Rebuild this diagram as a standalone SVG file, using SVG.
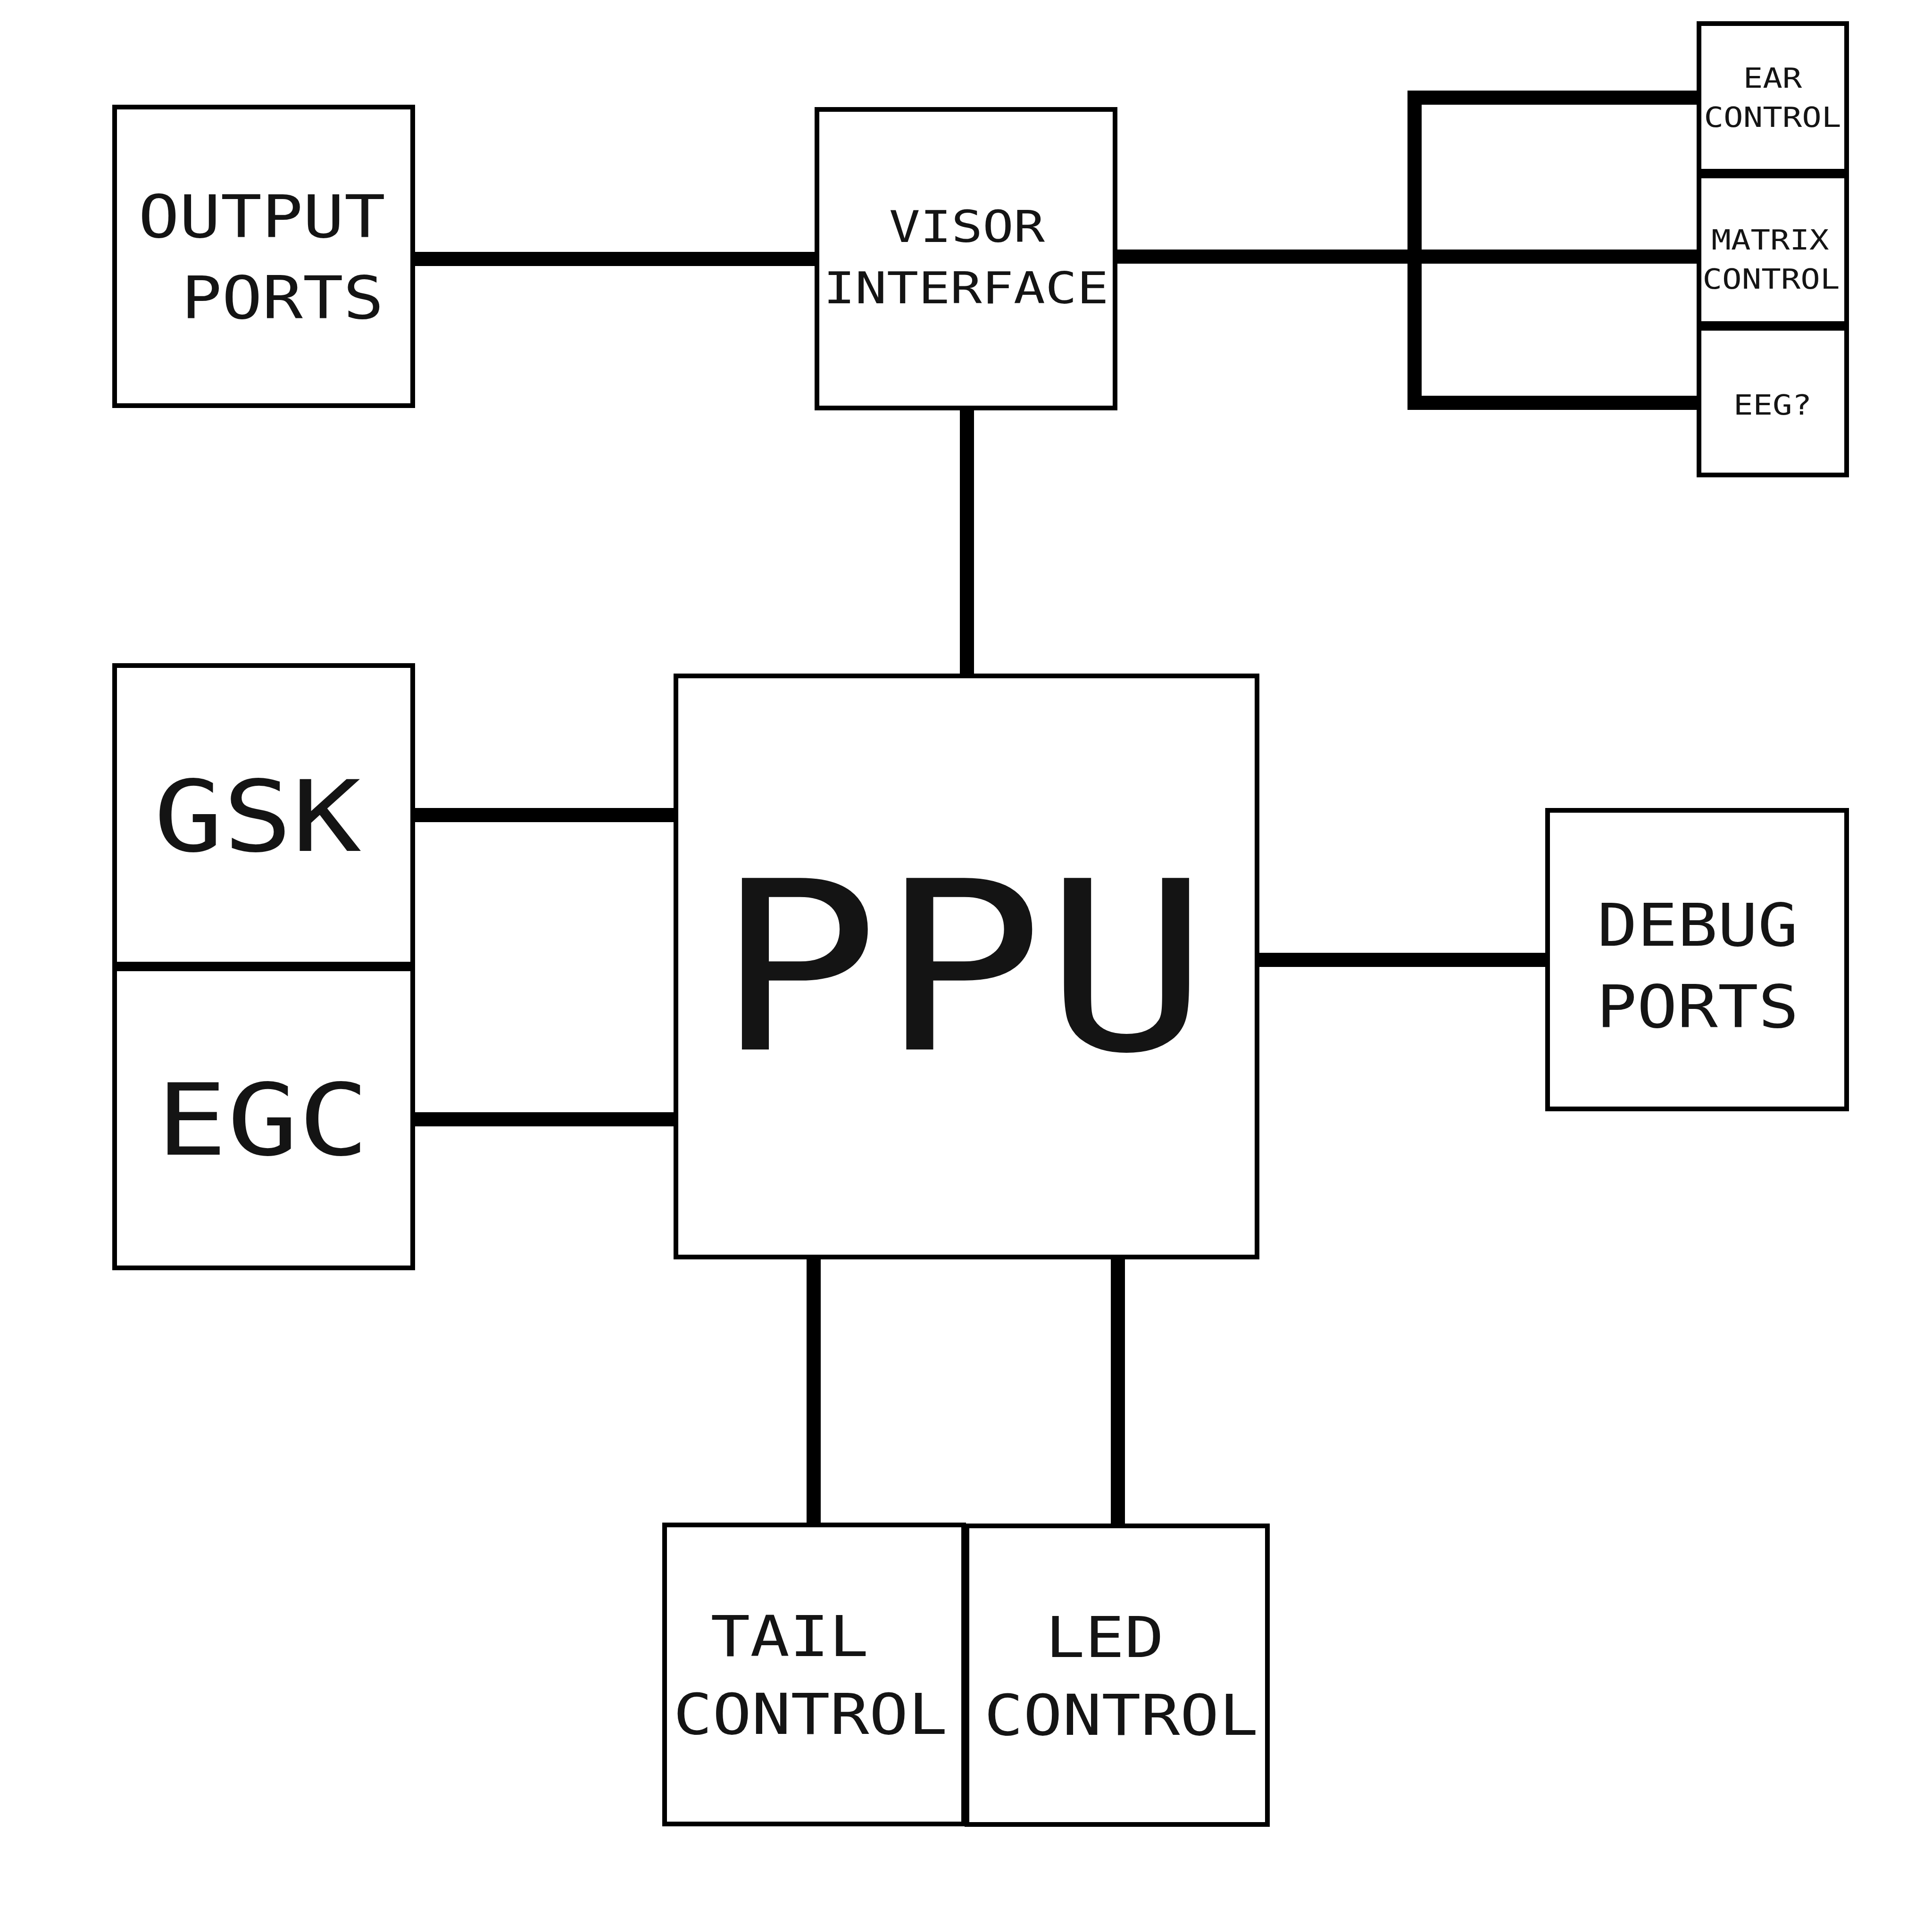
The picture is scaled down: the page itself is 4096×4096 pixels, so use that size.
<svg xmlns="http://www.w3.org/2000/svg" width="4096" height="4096" viewBox="0 0 4096 4096">
<style>
.box{fill:#ffffff;stroke:#000000;stroke-width:10}
.con{fill:none;stroke:#000000;stroke-width:30;stroke-linejoin:miter;stroke-linecap:butt}
.mono{font-family:"DejaVu Sans Mono","Liberation Mono",monospace;fill:#141414;text-anchor:middle}
</style>
<rect width="4096" height="4096" fill="#ffffff"/>
<g id="connectors">
<path class="con" d="M875 549H1732"/>
<path class="con" d="M2050 865V1433"/>
<path class="con" d="M2364 544H3602"/>
<path class="con" d="M3602 207H2999V854H3602"/>
<path class="con" d="M875 1728H1433"/>
<path class="con" d="M875 2373H1433"/>
<path class="con" d="M2665 2035H3281"/>
<path class="con" d="M1725 2665V3233"/>
<path class="con" d="M2370 2665V3235"/>
</g>
<g id="output-ports">
<rect class="box" x="243" y="227" width="632" height="633"/>
<text class="mono" font-size="124" transform="translate(555,503) scale(1.17,1)">OUTPUT</text>
<text class="mono" font-size="124" transform="translate(599,675) scale(1.15,1)">PORTS</text>
</g>
<g id="visor-interface">
<rect class="box" x="1732" y="232" width="632" height="633"/>
<text class="mono" font-size="93" transform="translate(2050,513) scale(1.18,1)">VISOR</text>
<text class="mono" font-size="93" transform="translate(2048,643) scale(1.2,1)">INTERFACE</text>
</g>
<g id="ear-control">
<rect class="box" x="3602" y="50" width="313" height="313"/>
<text class="mono" font-size="59" transform="translate(3758,186) scale(1.17,1)">EAR</text>
<text class="mono" font-size="59" transform="translate(3758,269) scale(1.17,1)">CONTROL</text>
</g>
<g id="matrix-control">
<rect class="box" x="3602" y="373" width="313" height="313"/>
<text class="mono" font-size="59" transform="translate(3753,529) scale(1.17,1)">MATRIX</text>
<text class="mono" font-size="59" transform="translate(3755,612) scale(1.17,1)">CONTROL</text>
</g>
<g id="eeg">
<rect class="box" x="3602" y="696" width="313" height="311"/>
<text class="mono" font-size="59" transform="translate(3758,879) scale(1.17,1)">EEG?</text>
</g>
<g id="gsk">
<rect class="box" x="243" y="1411" width="632" height="633"/>
<text class="mono" font-size="209" transform="translate(546,1804) scale(1.165,1)">GSK</text>
</g>
<g id="egc">
<rect class="box" x="243" y="2054" width="632" height="634"/>
<text class="mono" font-size="210" transform="translate(557,2448) scale(1.19,1)">EGC</text>
</g>
<g id="ppu">
<rect class="box" x="1433" y="1433" width="1232" height="1232"/>
<text class="mono" font-size="499" transform="translate(2040,2225) scale(1.16,1)">PPU</text>
</g>
<g id="debug-ports">
<rect class="box" x="3281" y="1718" width="634" height="633"/>
<text class="mono" font-size="124" transform="translate(3599,2005) scale(1.14,1)">DEBUG</text>
<text class="mono" font-size="124" transform="translate(3599,2178) scale(1.15,1)">PORTS</text>
</g>
<g id="tail-control">
<rect class="box" x="1409" y="3233" width="634" height="634"/>
<text class="mono" font-size="120" transform="translate(1674,3511) scale(1.16,1)">TAIL</text>
<text class="mono" font-size="120" transform="translate(1718,3676) scale(1.15,1)">CONTROL</text>
</g>
<g id="led-control">
<rect class="box" x="2050" y="3235" width="637" height="633"/>
<text class="mono" font-size="120" transform="translate(2342,3513) scale(1.16,1)">LED</text>
<text class="mono" font-size="120" transform="translate(2377,3678) scale(1.15,1)">CONTROL</text>
</g>
</svg>
